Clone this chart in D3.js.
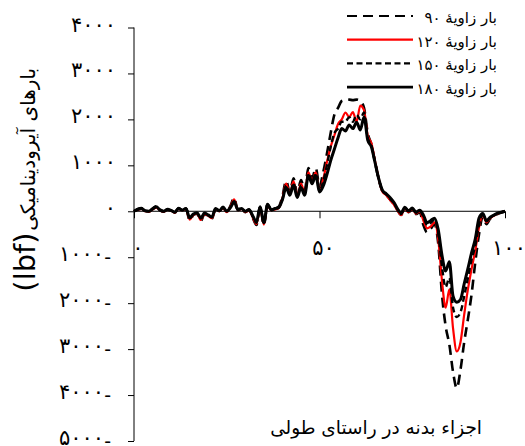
<!DOCTYPE html>
<html>
<head>
<meta charset="utf-8">
<script src="https://cdn.jsdelivr.net/npm/d3@7/dist/d3.min.js"></script>
<style>
  html, body { margin: 0; padding: 0; background: #fff; }
  svg { display: block; }
  text { font-family: "DejaVu Sans", "Noto Sans", sans-serif; fill: #000; }
</style>
</head>
<body>
<svg id="chart" width="525" height="446"></svg>
<script>
// Body element positions along the length (0..100)
const segment = d3.range(0, 101);

// Aerodynamic loads (lbf) for each angle
const load90 = [0, 50, 70, 0, -10, 60, 110, 20, -10, 50, 20, -30, 70, 30, 70, -200, -80, -50, -210, -60,
  -110, -160, 60, 0, 100, -20, 120, 290, 30, 60, -20, 30, -140, -300, 100, -300, 160, 30, 60, 100,
  320, 660, 420, 720, 380, 680, 450, 940, 720, 940, 550, 850, 1250, 1700, 2100, 2250, 2400, 2420, 2430, 2420,
  2430, 2400, 2250, 1700, 1450, 1050, 680, 430, 360, 260, 160, 30, -80, 70, -20, 40, -60, -20, -300, -460,
  -380, -280, -700, -1800, -2500, -2900, -3500, -3850, -3450, -2850, -2350, -1800, -1100, -500, -120, -280, -160, -100, -60, -30, 0];

const load120 = [0, 30, 50, 0, -10, 40, 80, 20, -10, 30, 10, -30, 50, 20, 50, -180, -80, -50, -190, -60,
  -100, -150, 40, 0, 70, -20, 100, 260, 20, 50, -20, 20, -130, -280, 80, -290, 120, 20, 40, 70,
  280, 600, 380, 650, 330, 600, 400, 850, 650, 850, 450, 700, 1070, 1400, 1650, 1900, 2000, 2150, 2050, 2160,
  1950, 2300, 2200, 1650, 1480, 1080, 700, 420, 350, 250, 150, 20, -80, 60, -20, 40, -50, 0, -200, -370,
  -330, -240, -600, -1500, -2100, -1700, -2550, -3050, -2850, -2250, -1700, -1250, -850, -350, -80, -240, -150, -100, -50, -20, 0];

const load150 = [0, 40, 60, 10, 0, 50, 90, 30, 0, 40, 20, -20, 60, 30, 60, -150, -70, -40, -160, -50,
  -90, -130, 50, 10, 80, 0, 90, 220, 30, 60, 0, 30, -110, -250, 90, -260, 140, 30, 50, 80,
  260, 560, 370, 610, 320, 560, 380, 820, 630, 820, 440, 650, 1000, 1400, 1700, 1800, 1950, 1950, 2050, 1950,
  2100, 2000, 2150, 1600, 1430, 1060, 700, 440, 370, 280, 180, 40, -60, 80, 0, 60, -30, 10, -120, -300,
  -250, -180, -480, -1200, -1650, -1450, -2100, -2300, -2200, -1850, -1450, -1050, -750, -300, -70, -220, -140, -90, -50, -20, 0];

const load180 = [0, 40, 60, 10, 0, 50, 100, 30, 0, 40, 20, -20, 60, 30, 60, -140, -60, -30, -150, -40,
  -80, -120, 60, 10, 90, 0, 80, 200, 40, 60, 0, 40, -100, -230, 100, -250, 150, 30, 60, 80,
  250, 520, 350, 570, 300, 520, 350, 780, 600, 780, 420, 550, 800, 1100, 1350, 1600, 1800, 1750, 1880, 1800,
  1940, 1770, 2050, 1550, 1400, 1050, 700, 450, 380, 300, 200, 60, -40, 90, 10, 70, -20, 20, -80, -250,
  -200, -150, -400, -950, -1300, -1100, -1850, -1980, -1920, -1580, -1250, -900, -600, -150, -50, -200, -130, -80, -40, -20, 0];

const seriesLabels = ["بار زاویهٔ ۹۰", "بار زاویهٔ ۱۲۰", "بار زاویهٔ ۱۵۰", "بار زاویهٔ ۱۸۰"];
const yTicks = [4000, 3000, 2000, 1000, 0, -1000, -2000, -3000, -4000, -5000];
const xTicks = [0, 50, 100];
const yTitle = "بارهای آیرودینامیکی";
const yUnit = "(lbf)";
const xTitle = "اجزاء بدنه در راستای طولی";

const series = [
  { label: seriesLabels[0], values: load90,  color: "#000", width: 2.6, dash: "10,6" },
  { label: seriesLabels[1], values: load120, color: "#ff0000", width: 2.2, dash: null },
  { label: seriesLabels[2], values: load150, color: "#000", width: 2.4, dash: "6,3.5" },
  { label: seriesLabels[3], values: load180, color: "#000", width: 3, dash: null }
];

const faDigits = "۰۱۲۳۴۵۶۷۸۹";
const toFa = n => String(Math.abs(n)).replace(/\d/g, d => faDigits[+d]);

const svg = d3.select("#chart");
const x = d3.scaleLinear().domain([0, 100]).range([134, 505]);
const y = d3.scaleLinear().domain([-5000, 4000]).range([441, 27.5]);

// Curves
const line = d3.line()
  .x((d, i) => x(segment[i]))
  .y(d => y(d))
  .curve(d3.curveMonotoneX);

const plot = svg.append("g");
series.forEach(s => {
  plot.append("path")
    .datum(s.values)
    .attr("d", line)
    .attr("fill", "none")
    .attr("stroke", s.color)
    .attr("stroke-width", s.width)
    .attr("stroke-linejoin", "round")
    .attr("stroke-dasharray", s.dash);
});

// Y axis
const yAxis = svg.append("g")
  .attr("transform", `translate(${x(0)},0)`)
  .call(d3.axisLeft(y).tickValues(yTicks).tickSize(6).tickFormat(""));
yAxis.select(".domain").attr("stroke", "#000").attr("d", `M0,${y(4000)}V${y(-5000)}`);
yAxis.selectAll(".tick line").attr("stroke", "#000");

const yLab = svg.append("g");
yTicks.forEach(v => {
  const t = yLab.append("text")
    .attr("x", v < 0 ? 111 : 116)
    .attr("y", y(v) + 4)
    .attr("text-anchor", "end")
    .attr("font-size", 21)
    .attr("letter-spacing", 9);
  if (v < 0) {
    t.append("tspan").text(toFa(v));
    t.append("tspan").attr("dy", 3).attr("font-size", 19).attr("letter-spacing", 0).text("-");
  } else {
    t.text(toFa(v));
  }
});

// X axis along zero
const xAxis = svg.append("g")
  .attr("transform", `translate(0,${y(0)})`)
  .call(d3.axisBottom(x).tickValues(xTicks).tickSize(7).tickFormat(""));
xAxis.select(".domain").attr("stroke", "#000").attr("d", `M${x(0)},0H${x(100)}`);
xAxis.selectAll(".tick line").attr("stroke", "#000");

xTicks.forEach(v => {
  svg.append("text")
    .attr("x", x(v) + 4)
    .attr("y", 255)
    .attr("text-anchor", "middle")
    .attr("font-size", 21)
    .attr("letter-spacing", 8)
    .text(toFa(v));
});

// Axis titles
const yt = svg.append("g").attr("transform", "translate(35,0) rotate(-90)");
yt.append("text")
  .attr("x", -68)
  .attr("y", 0)
  .attr("text-anchor", "end")
  .attr("font-size", 20)
  .text(yTitle);
yt.append("text")
  .attr("x", -262)
  .attr("y", 0)
  .attr("text-anchor", "middle")
  .attr("font-family", "Liberation Sans, Arial, sans-serif")
  .attr("font-size", 29)
  .text(yUnit);

svg.append("text")
  .attr("x", 482)
  .attr("y", 434)
  .attr("text-anchor", "end")
  .attr("font-size", 18.5)
  .text(xTitle);

// Legend
const legend = svg.append("g");
series.forEach((s, i) => {
  const ly = 16 + i * 23.7;
  legend.append("line")
    .attr("x1", 347).attr("x2", 413)
    .attr("y1", ly).attr("y2", ly)
    .attr("stroke", s.color)
    .attr("stroke-width", i === 3 ? 2.6 : 2.2)
    .attr("stroke-dasharray", s.dash);
  legend.append("text")
    .attr("x", 497)
    .attr("y", ly + 7)
    .attr("text-anchor", "end")
    .attr("font-size", 15)
    .text(s.label);
});
</script>
</body>
</html>
